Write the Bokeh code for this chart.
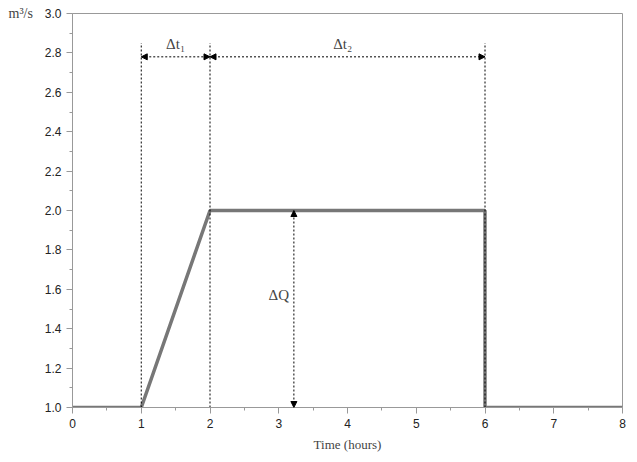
from bokeh.plotting import figure
from bokeh.models import Arrow, NormalHead, Label, Range1d, FixedTicker, PrintfTickFormatter
from bokeh.embed import file_html
from bokeh.resources import INLINE

t = [0, 1, 2, 6, 6, 8]
q = [1.0, 1.0, 2.0, 2.0, 1.0, 1.0]
marks = [1, 2, 6]
mark_top = 2.85
arrow_y = 2.78
dq_x = 3.22

p = figure(width=629, height=454, output_backend="svg", toolbar_location=None,
           x_range=Range1d(0, 8), y_range=Range1d(1.0, 3.0), title="m³/s",
           min_border_left=72, min_border_right=7, min_border_top=13, min_border_bottom=38)
p.title.text_font = "Liberation Serif"
p.title.text_font_size = "14px"
p.title.text_font_style = "normal"
p.title.align = "left"
p.title.offset = -64
p.title.standoff = -14
p.grid.visible = False
p.outline_line_color = "#999999"
for ax in (p.xaxis, p.yaxis):
    ax.axis_line_color = "#999999"
    ax.major_tick_line_color = "#999999"
    ax.minor_tick_line_color = "#999999"
    ax.major_tick_out = 6
    ax.major_tick_in = 0
    ax.minor_tick_out = 3
    ax.minor_tick_in = 0
    ax.major_label_text_font = "Liberation Sans"
    ax.major_label_text_font_size = "12px"
    ax.major_label_text_color = "#222222"
p.xaxis.ticker = FixedTicker(ticks=list(range(0, 9)), minor_ticks=[i + 0.5 for i in range(8)])
p.yaxis.ticker = FixedTicker(ticks=[1 + 0.2 * i for i in range(11)],
                             minor_ticks=[1.1 + 0.2 * i for i in range(10)])
p.yaxis.formatter = PrintfTickFormatter(format="%.1f")
p.xaxis.axis_label = "Time (hours)"
p.xaxis.axis_label_text_font = "Liberation Serif"
p.xaxis.axis_label_text_font_style = "normal"
p.xaxis.axis_label_text_font_size = "13px"
p.xaxis.axis_label_standoff = 6

p.line(t, q, line_color="#777777", line_width=3.5)

for m in marks:
    p.segment(x0=m, y0=1.0, x1=m, y1=mark_top, line_color="black", line_width=1, line_dash="2 2")

def darrow(x0, y0, x1, y1):
    p.add_layout(Arrow(start=NormalHead(size=6, fill_color="black", line_color="black"),
                       end=NormalHead(size=6, fill_color="black", line_color="black"),
                       x_start=x0, y_start=y0, x_end=x1, y_end=y1,
                       line_color="black", line_width=1, line_dash="2 2"))

darrow(marks[0], arrow_y, marks[1], arrow_y)
darrow(marks[1], arrow_y, marks[2], arrow_y)
darrow(dq_x, 1.0, dq_x, 2.0)

def lab(x, y, txt, size="15px"):
    p.add_layout(Label(x=x, y=y, text=txt, text_font="Liberation Serif", text_font_size=size,
                       text_align="center", text_baseline="middle"))

lab(1.5, 2.845, "Δt₁")
lab(3.93, 2.845, "Δt₂")
lab(3.0, 1.57, "ΔQ")

open("out.html", "w").write(file_html(p, INLINE))
